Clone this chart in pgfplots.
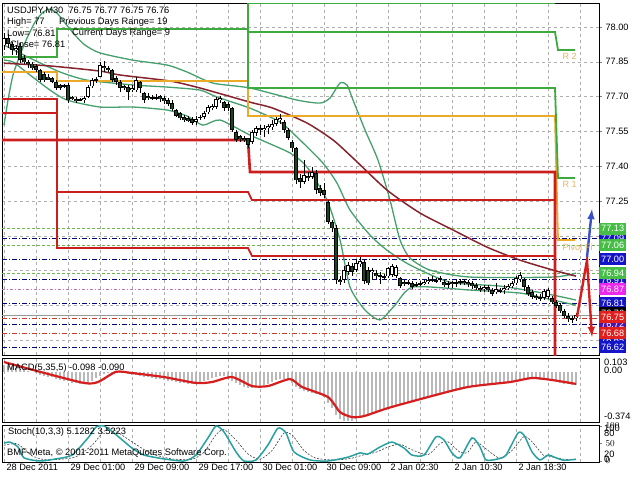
\documentclass[border=0pt]{standalone}
\usepackage{pgfplots}
\pgfplotsset{compat=1.18}
\usepackage{pgfplotstable}
\usepackage{fontspec}
\setmainfont{Liberation Sans}
\definecolor{gridc}{RGB}{175,175,175}
\definecolor{bandc}{RGB}{70,160,110}
\definecolor{mac}{RGB}{135,35,45}
\definecolor{pivg}{RGB}{60,170,60}
\definecolor{pivo}{RGB}{235,170,40}
\definecolor{pivr}{RGB}{205,30,30}
\definecolor{navyl}{RGB}{0,0,120}
\definecolor{greenl}{RGB}{110,180,80}
\definecolor{magl}{RGB}{200,110,200}
\definecolor{redl}{RGB}{200,60,40}
\definecolor{boxg}{RGB}{70,190,70}
\definecolor{boxb}{RGB}{20,20,200}
\definecolor{boxm}{RGB}{235,40,235}
\definecolor{boxr}{RGB}{225,30,30}
\definecolor{boxp}{RGB}{80,20,170}
\definecolor{bear}{RGB}{25,70,35}
\definecolor{stc}{RGB}{40,160,160}
\definecolor{macdred}{RGB}{215,30,30}
\definecolor{labo}{RGB}{230,180,100}
\definecolor{arrowb}{RGB}{60,80,200}

\pgfplotstableread{
k o h l c
0 77.922 77.974 77.900 77.952
1 77.952 77.969 77.909 77.926
2 77.926 77.935 77.879 77.900
3 77.900 77.922 77.879 77.909
4 77.918 77.931 77.844 77.857
5 77.866 77.879 77.840 77.849
6 77.849 77.857 77.823 77.840
7 77.844 77.849 77.814 77.823
8 77.832 77.840 77.806 77.814
9 77.814 77.819 77.763 77.771
10 77.797 77.806 77.763 77.771
11 77.788 77.797 77.771 77.775
12 77.780 77.784 77.758 77.763
13 77.763 77.771 77.728 77.737
14 77.750 77.754 77.728 77.737
15 77.745 77.754 77.737 77.750
16 77.750 77.758 77.672 77.685
17 77.698 77.702 77.685 77.689
18 77.689 77.698 77.672 77.681
19 77.685 77.694 77.681 77.689
20 77.685 77.702 77.672 77.694
21 77.698 77.750 77.694 77.741
22 77.745 77.780 77.737 77.771
23 77.771 77.784 77.758 77.775
24 77.788 77.849 77.784 77.836
25 77.832 77.857 77.806 77.823
26 77.823 77.832 77.806 77.814
27 77.814 77.819 77.763 77.771
28 77.780 77.788 77.750 77.763
29 77.763 77.771 77.719 77.737
30 77.745 77.750 77.728 77.737
31 77.741 77.750 77.685 77.719
32 77.728 77.750 77.719 77.737
33 77.728 77.784 77.719 77.771
34 77.763 77.767 77.715 77.737
35 77.715 77.719 77.672 77.685
36 77.702 77.715 77.685 77.694
37 77.694 77.707 77.685 77.698
38 77.698 77.711 77.685 77.694
39 77.702 77.707 77.676 77.689
40 77.694 77.702 77.668 77.681
41 77.685 77.694 77.659 77.668
42 77.672 77.685 77.638 77.646
43 77.642 77.646 77.612 77.616
44 77.629 77.633 77.599 77.607
45 77.612 77.620 77.590 77.599
46 77.607 77.616 77.590 77.594
47 77.603 77.612 77.577 77.586
48 77.594 77.616 77.577 77.603
49 77.607 77.620 77.599 77.612
50 77.612 77.638 77.607 77.629
51 77.633 77.663 77.625 77.655
52 77.650 77.668 77.642 77.659
53 77.655 77.698 77.646 77.689
54 77.685 77.702 77.672 77.694
55 77.676 77.681 77.638 77.650
56 77.668 77.676 77.638 77.650
57 77.650 77.655 77.547 77.556
58 77.547 77.556 77.504 77.513
59 77.530 77.534 77.504 77.517
60 77.521 77.530 77.504 77.513
61 77.521 77.525 77.482 77.491
62 77.504 77.556 77.495 77.547
63 77.543 77.573 77.530 77.564
64 77.564 77.577 77.534 77.556
65 77.556 77.577 77.525 77.564
66 77.564 77.582 77.538 77.573
67 77.569 77.599 77.556 77.582
68 77.582 77.612 77.573 77.603
69 77.599 77.625 77.582 77.607
70 77.590 77.599 77.543 77.556
71 77.556 77.564 77.513 77.521
72 77.504 77.513 77.461 77.478
73 77.478 77.482 77.323 77.340
74 77.349 77.366 77.306 77.332
75 77.332 77.426 77.323 77.362
76 77.357 77.375 77.336 77.349
77 77.353 77.396 77.344 77.375
78 77.370 77.383 77.280 77.297
79 77.306 77.319 77.271 77.284
80 77.297 77.327 77.263 77.275
81 77.245 77.254 77.150 77.159
82 77.159 77.168 77.116 77.133
83 77.133 77.146 76.892 76.909
84 76.909 76.926 76.888 76.900
85 76.909 76.969 76.896 76.952
86 76.944 76.987 76.931 76.974
87 76.969 76.982 76.926 76.944
88 76.952 77.000 76.944 76.982
89 76.978 77.008 76.965 76.991
90 76.987 76.995 76.892 76.905
91 76.952 76.969 76.888 76.896
92 76.944 76.961 76.909 76.952
93 76.939 76.952 76.913 76.926
94 76.931 76.944 76.892 76.926
95 76.926 76.935 76.909 76.922
96 76.926 76.969 76.918 76.961
97 76.931 76.978 76.922 76.969
98 76.926 76.974 76.918 76.965
99 76.918 76.922 76.875 76.883
100 76.900 76.909 76.883 76.892
101 76.900 76.909 76.888 76.896
102 76.896 76.905 76.870 76.879
103 76.892 76.900 76.879 76.888
104 76.892 76.905 76.883 76.896
105 76.892 76.909 76.888 76.900
106 76.900 76.922 76.892 76.909
107 76.909 76.926 76.900 76.913
108 76.905 76.918 76.896 76.909
109 76.913 76.926 76.900 76.918
110 76.900 76.909 76.879 76.888
111 76.892 76.905 76.875 76.896
112 76.900 76.905 76.879 76.892
113 76.900 76.909 76.879 76.896
114 76.900 76.913 76.888 76.905
115 76.905 76.913 76.888 76.896
116 76.900 76.909 76.879 76.892
117 76.896 76.905 76.870 76.883
118 76.888 76.896 76.866 76.875
119 76.875 76.883 76.857 76.866
120 76.870 76.888 76.857 76.879
121 76.879 76.888 76.857 76.866
122 76.866 76.875 76.840 76.849
123 76.857 76.896 76.849 76.870
124 76.866 76.875 76.853 76.862
125 76.866 76.888 76.849 76.875
126 76.875 76.892 76.866 76.883
127 76.883 76.905 76.875 76.896
128 76.896 76.926 76.888 76.918
129 76.913 76.944 76.900 76.931
130 76.909 76.918 76.866 76.879
131 76.879 76.888 76.840 76.849
132 76.857 76.866 76.827 76.836
133 76.840 76.849 76.823 76.832
134 76.836 76.849 76.819 76.832
135 76.832 76.870 76.823 76.862
136 76.836 76.875 76.827 76.866
137 76.832 76.840 76.806 76.814
138 76.814 76.823 76.788 76.797
139 76.801 76.810 76.767 76.775
140 76.775 76.784 76.745 76.754
141 76.754 76.767 76.728 76.741
142 76.745 76.754 76.724 76.741
143 76.745 76.765 76.733 76.758
}\candles

\pgfplotsset{
  mt/.style={scale only axis, width=597pt, xmin=-0.5, xmax=148.75,
    axis line style={black, line width=0.8pt},
    xmajorgrids, major grid style={gridc, dash pattern=on 3pt off 3pt, line width=0.5pt},
    xtick={0,8,...,144}, xticklabels={}, xtick style={draw=none},
    ticklabel style={font=\fontsize{9.2}{11}\selectfont},
    yticklabel pos=right, ytick pos=right, ytick align=outside, major tick length=3pt,
    yticklabel style={anchor=west, xshift=0pt},
    clip mode=individual}
}
\tikzset{bx/.style={anchor=west, fill=#1, text=white, inner xsep=2pt, inner ysep=1.2pt, minimum height=12pt, font=\fontsize{9.2}{11}\selectfont}}

\begin{document}
\begin{tikzpicture}
\useasboundingbox (0pt,0pt) rectangle (640pt,-480pt);
\fill[white] (0pt,0pt) rectangle (640pt,-480pt);

% ---------------- main price panel
\begin{axis}[mt, at={(2pt,-355pt)}, anchor=south west, height=352pt,
  ymin=76.586, ymax=78.1034, ymajorgrids,
  ytick={76.65,76.80,76.95,77.10,77.25,77.40,77.55,77.70,77.85,78.00},
  yticklabels={,,,,77.25,77.40,77.55,77.70,77.85,78.00}]

% horizontal level lines
\addplot[greenl, dash pattern=on 3pt off 2pt, line width=0.7pt] coordinates {(-0.5,77.13) (148.75,77.13)};
\addplot[navyl, dash pattern=on 5pt off 2pt on 1pt off 2pt, line width=0.8pt] coordinates {(-0.5,77.09) (148.75,77.09)};
\addplot[greenl, dash pattern=on 3pt off 2pt, line width=0.7pt] coordinates {(-0.5,77.06) (148.75,77.06)};
\addplot[navyl, dash pattern=on 5pt off 2pt on 1pt off 2pt, line width=0.8pt] coordinates {(-0.5,77.00) (148.75,77.00)};
\addplot[greenl, dash pattern=on 3pt off 2pt, line width=0.7pt] coordinates {(-0.5,76.94) (148.75,76.94)};
\addplot[navyl, dash pattern=on 5pt off 2pt on 1pt off 2pt, line width=0.8pt] coordinates {(-0.5,76.91) (148.75,76.91)};
\addplot[magl, dash pattern=on 3pt off 2pt on 1pt off 2pt, line width=0.8pt] coordinates {(-0.5,76.87) (148.75,76.87)};
\addplot[navyl, dash pattern=on 5pt off 2pt on 1pt off 2pt, line width=0.8pt] coordinates {(-0.5,76.81) (148.75,76.81)};
\addplot[gray!80, line width=0.6pt] coordinates {(-0.5,76.757) (148.75,76.757)};
\addplot[redl, dash pattern=on 5pt off 2pt on 1pt off 2pt, line width=0.8pt] coordinates {(-0.5,76.745) (148.75,76.745)};
\addplot[navyl, dash pattern=on 5pt off 2pt on 1pt off 2pt, line width=0.8pt] coordinates {(-0.5,76.72) (148.75,76.72)};
\addplot[redl, dash pattern=on 5pt off 2pt on 1pt off 2pt, line width=0.8pt] coordinates {(-0.5,76.68) (148.75,76.68)};
\addplot[navyl, dash pattern=on 5pt off 2pt on 1pt off 2pt, line width=0.8pt] coordinates {(-0.5,76.62) (148.75,76.62)};

% bands
\addplot[bandc, line width=1.3pt, smooth, tension=0.4] coordinates {
(0,77.577) (1,77.685) (2.25,77.793) (4,77.879) (5.75,77.952) (7.75,78.021) (9.75,78.064) (11.5,78.077) (13.25,78.060) (15.25,78.017) (17.75,77.965) (20.25,77.922) (24,77.888) (32.25,77.857) (40.75,77.836) (45.75,77.806) (52.25,77.758) (61.5,77.737) (73.25,77.685) (79,77.672) (81.5,77.694) (84,77.758) (85.75,77.750) (87.25,77.685) (90.25,77.556) (93.5,77.426) (96.5,77.254) (99,77.082) (101.5,77.004) (106.5,76.952) (116.5,76.922) (137.25,76.922) (143,76.939)};
\addplot[bandc, line width=1.3pt, smooth, tension=0.4] coordinates {
(0,77.922) (6.5,77.866) (14,77.806) (20.75,77.771) (32.25,77.750) (40.75,77.741) (49,77.728) (53.25,77.698) (61.5,77.650) (69,77.590) (74,77.513) (79.75,77.413) (83.25,77.327) (86.5,77.211) (91.5,77.103) (95.75,77.038) (101.5,76.974) (111.5,76.900) (124,76.883) (134.75,76.853) (143,76.823)};
\addplot[bandc, line width=1.3pt, smooth, tension=0.4] coordinates {
(0,77.857) (2.25,77.849) (6.5,77.793) (11.5,77.728) (15.75,77.685) (24,77.655) (32.25,77.655) (40.75,77.642) (45.75,77.616) (49.75,77.577) (54,77.599) (61.5,77.534) (71.5,77.457) (75.75,77.396) (80.75,77.254) (84,77.082) (86.5,76.879) (90.25,76.780) (94,76.737) (97.75,76.801) (102.25,76.879) (116.5,76.866) (129,76.853) (137.25,76.823) (143,76.801)};

% moving average
\addplot[mac, line width=1.5pt, smooth, tension=0.4] coordinates {
(0,77.844) (11.5,77.832) (24,77.810) (29,77.793) (41.5,77.767) (49,77.737) (61.5,77.676) (67.25,77.650) (75.75,77.586) (82.25,77.513) (87.25,77.435) (95.75,77.297) (104,77.198) (112.25,77.125) (120.75,77.051) (129,76.995) (137.25,76.952) (143,76.926)};

% pivot step lines
\addplot[pivo, line width=1.8pt] coordinates {(-0.5,77.806) (13.25,77.806) (13.25,77.767) (61,77.767) (61,77.616) (137.75,77.616) (138.5,77.082) (142.75,77.082)};
\addplot[pivg, line width=1.8pt] coordinates {(-0.5,77.871) (13.25,77.871) (13.25,77.991) (61,77.991) (61,77.737) (137.75,77.737) (138.5,77.349) (142.75,77.349)};
\addplot[pivg, line width=1.8pt] coordinates {(61,78.3) (61,77.978) (137.75,77.978) (138.5,77.901) (142.75,77.901)};
\addplot[pivg, line width=1.8pt] coordinates {(61,78.101) (137.75,78.101)};
\addplot[pivr, line width=1.8pt] coordinates {(-0.5,77.690) (13.25,77.690) (13.25,77.289) (61,77.289) (62,77.254) (137.75,77.254) (137.75,76.5)};
\addplot[pivr, line width=1.8pt] coordinates {(-0.5,77.629) (13.25,77.629) (13.25,77.047) (61,77.047) (62,77.013) (137.75,77.013) (137.75,76.5)};
\addplot[pivr, line width=2.6pt] coordinates {(-0.5,77.513) (61,77.513) (61.5,77.375) (137.75,77.375) (137.75,76.5)};

% candles: wicks, body outlines, fills
\addplot[draw=none, mark=none, forget plot, error bars/.cd, y dir=both, y explicit, error mark=none,
  error bar style={draw=black, line width=0.8pt}]
  table[x=k, y expr={(\thisrow{h}+\thisrow{l})/2}, y error expr={(\thisrow{h}-\thisrow{l})/2}] {\candles};
\addplot[draw=none, mark=none, forget plot, error bars/.cd, y dir=both, y explicit, error mark=none,
  error bar style={draw=black, line width=3.4pt}]
  table[x=k, y expr={(\thisrow{o}+\thisrow{c})/2}, y error expr={max(abs(\thisrow{c}-\thisrow{o})/2,0.0022)}] {\candles};
\addplot[draw=none, mark=none, forget plot, error bars/.cd, y dir=both, y explicit, error mark=none,
  error bar style={draw=white, line width=1.6pt}]
  table[x=k, y expr={(\thisrow{o}+\thisrow{c})/2}, y error expr={max((\thisrow{c}-\thisrow{o})/2-0.0035,0)}] {\candles};
\addplot[draw=none, mark=none, forget plot, error bars/.cd, y dir=both, y explicit, error mark=none,
  error bar style={draw=bear, line width=1.6pt}]
  table[x=k, y expr={(\thisrow{o}+\thisrow{c})/2}, y error expr={max((\thisrow{o}-\thisrow{c})/2-0.0035,0)}] {\candles};

% zigzag arrows
\addplot[macdred, line width=2.4pt, -{latex}] coordinates {(143.25,76.750) (145.75,76.995) (147,76.664)};
\addplot[arrowb, line width=2.4pt, -{latex}] coordinates {(145.75,77.008) (147,77.215)};

% labels of pivot lines
\node[text=labo, anchor=west, font=\fontsize{9}{10}\selectfont] at (axis cs:138.8,77.875) {R 2};
\node[text=labo, anchor=west, font=\fontsize{9}{10}\selectfont] at (axis cs:138.8,77.323) {R 1};
\node[text=labo, anchor=west, font=\fontsize{9}{10}\selectfont] at (axis cs:138.8,77.052) {Pivot Fi};

% price boxes
\node[bx=boxb] at (axis cs:148.75,77.09) {77.09};
\node[bx=boxg] at (axis cs:148.75,77.13) {77.13};
\node[bx=boxg] at (axis cs:148.75,77.06) {77.06};
\node[bx=boxb] at (axis cs:148.75,77.00) {77.00};
\node[bx=boxb] at (axis cs:148.75,76.91) {76.91};
\node[bx=boxg] at (axis cs:148.75,76.94) {76.94};
\node[bx=boxm] at (axis cs:148.75,76.87) {76.87};
\node[bx=boxb] at (axis cs:148.75,76.81) {76.81};
\node[bx=black] at (axis cs:148.75,76.765) {76.76};
\node[bx=boxp] at (axis cs:148.75,76.72) {76.72};
\node[bx=boxr] at (axis cs:148.75,76.75) {76.75};
\node[bx=boxb] at (axis cs:148.75,76.65) {76.65};
\node[bx=boxr] at (axis cs:148.75,76.68) {76.68};
\node[bx=boxb] at (axis cs:148.75,76.62) {76.62};
\end{axis}

% ---------------- MACD panel
\begin{axis}[mt, at={(2pt,-422pt)}, anchor=south west, height=64pt,
  ymin=-0.374, ymax=0.103, ytick={0.103,0,-0.374}, yticklabels={}, ytick style={draw=none}]
\addplot[ycomb, gray!55, line width=2pt] coordinates {
(0,0.05) (1,0.045) (2,0.04) (3,0.03) (4,0.02) (5,0.01) (6,0.005) (7,0) (8,-0.01) (9,-0.02)
(10,-0.03) (11,-0.035) (12,-0.04) (13,-0.05) (14,-0.06) (15,-0.065) (16,-0.07) (17,-0.08) (18,-0.085) (19,-0.09)
(20,-0.088) (21,-0.08) (22,-0.065) (23,-0.045) (24,-0.03) (25,-0.015) (26,-0.005) (27,-0.002) (28,0) (29,-0.004)
(30,-0.01) (31,-0.015) (32,-0.02) (33,-0.025) (34,-0.03) (35,-0.035) (36,-0.04) (37,-0.045) (38,-0.05) (39,-0.055)
(40,-0.06) (41,-0.065) (42,-0.07) (43,-0.075) (44,-0.08) (45,-0.085) (46,-0.088) (47,-0.09) (48,-0.085) (49,-0.078)
(50,-0.07) (51,-0.058) (52,-0.045) (53,-0.035) (54,-0.03) (55,-0.032) (56,-0.045) (57,-0.065) (58,-0.085) (59,-0.1)
(60,-0.115) (61,-0.12) (62,-0.12) (63,-0.118) (64,-0.11) (65,-0.1) (66,-0.09) (67,-0.075) (68,-0.06) (69,-0.052)
(70,-0.05) (71,-0.06) (72,-0.085) (73,-0.115) (74,-0.13) (75,-0.14) (76,-0.15) (77,-0.155) (78,-0.165) (79,-0.175)
(80,-0.19) (81,-0.23) (82,-0.27) (83,-0.32) (84,-0.35) (85,-0.368) (86,-0.37) (87,-0.365) (88,-0.355) (89,-0.345)
(90,-0.335) (91,-0.325) (92,-0.31) (93,-0.3) (94,-0.29) (95,-0.28) (96,-0.27) (97,-0.26) (98,-0.25) (99,-0.24)
(100,-0.23) (101,-0.222) (102,-0.215) (103,-0.208) (104,-0.2) (105,-0.192) (106,-0.185) (107,-0.178) (108,-0.17) (109,-0.163)
(110,-0.157) (111,-0.15) (112,-0.143) (113,-0.137) (114,-0.13) (115,-0.125) (116,-0.12) (117,-0.115) (118,-0.11) (119,-0.105)
(120,-0.1) (121,-0.095) (122,-0.092) (123,-0.088) (124,-0.083) (125,-0.078) (126,-0.072) (127,-0.065) (128,-0.058) (129,-0.05)
(130,-0.045) (131,-0.045) (132,-0.05) (133,-0.055) (134,-0.058) (135,-0.06) (136,-0.06) (137,-0.065) (138,-0.072) (139,-0.08)
(140,-0.087) (141,-0.092) (142,-0.095) (143,-0.098)};
\addplot[macdred, line width=2.2pt, smooth, tension=0.4] coordinates {
(0,0.073) (9,0) (20,-0.083) (23.5,-0.076) (28,0) (32,-0.009) (40,-0.039) (48,-0.083) (52,-0.076) (57,-0.039) (62,-0.106) (66,-0.106) (71.5,-0.054) (74.5,-0.113) (81,-0.188) (84,-0.300) (87,-0.337) (90,-0.330) (96,-0.270) (106,-0.188) (116,-0.113) (126.5,-0.076) (132,-0.046) (137,-0.061) (143,-0.090)};
\end{axis}

% ---------------- Stochastic panel
\begin{axis}[mt, at={(2pt,-462pt)}, anchor=south west, height=37pt,
  ymin=-2.9, ymax=102.9, ytick={}, 
  xticklabels={28 Dec 2011,,29 Dec 01:00,,29 Dec 09:00,,29 Dec 17:00,,30 Dec 01:00,,30 Dec 09:00,,2 Jan 02:30,,2 Jan 10:30,,2 Jan 18:30,,},
  xticklabel style={anchor=north west, xshift=-1pt, yshift=1pt}]
\addplot[black!75, line width=0.6pt, dash pattern=on 2pt off 1.5pt, smooth, tension=0.4] coordinates {
(0,45) (3,50) (5,35) (7,15) (10,4) (14,5) (18,12) (22,45) (25,85) (27,92) (30,70) (34,40) (37,20) (42,6) (47,5) (50,25) (53,75) (55,90) (58,60) (61,20) (64,5) (67,30) (70,80) (72,75) (75,30) (78,8) (83,3) (87,8) (90,18) (93,25) (96,40) (99,48) (102,32) (106,18) (109,50) (111,55) (114,25) (116,25) (118,55) (121,30) (124,8) (127,30) (130,70) (132,55) (135,15) (137,12) (140,5) (143,3.5)};
\addplot[stc, line width=1.5pt, smooth, tension=0.4] coordinates {
(0,51) (1.5,54) (3.5,40) (5,9) (9,0) (13,6) (17,17) (21,66) (23,97) (25,100) (27.5,80) (32,37) (35,17) (40,6) (45,0) (48,17) (51,66) (53,100) (55,83) (58,26) (60,0) (63,3) (66,46) (68.5,94) (70.5,80) (72.5,26) (76.5,3) (81,0) (86,11) (89,23) (91,20) (94,40) (97,54) (100,37) (102,17) (105,17) (108,69) (110,60) (112,23) (114,9) (117,66) (119,40) (120.5,3) (123.5,6) (125.5,17) (128.5,80) (130,74) (132,26) (134,3) (136,17) (138,9) (140,2) (143,5.1)};
\end{axis}

% ---------------- texts
\begin{scope}[every node/.style={font=\fontsize{9.3}{11}\selectfont, inner sep=0pt, anchor=west}]
\node at (7pt,-11pt) {USDJPY,M30\ \ 76.75 76.77 76.75 76.76};
\node at (7pt,-22pt) {High= 77};
\node at (59pt,-22pt) {Previous Days Range= 19};
\node at (7pt,-33pt) {Low= 76.81};
\node at (72pt,-33pt) {Current Days Range= 9};
\node at (10pt,-44pt) {Close= 76.81};
\node at (7pt,-368pt) {MACD(5,35,5) -0.098 -0.090};
\node at (604pt,-362pt) {0.103};
\node at (604pt,-370pt) {0.00};
\node at (604pt,-416pt) {-0.374};
\node at (8pt,-432pt) {Stoch(10,3,3) 5.1282 3.5223};
\node at (7pt,-453pt) {BMF-Meta, \textcopyright\ 2001-2011 MetaQuotes Software Corp.};
\node at (604pt,-428pt) {100};
\node at (604pt,-433pt) {80};
\node at (604pt,-454pt) {20};
\node at (604pt,-459pt) {0};
\end{scope}
\end{tikzpicture}
\end{document}
